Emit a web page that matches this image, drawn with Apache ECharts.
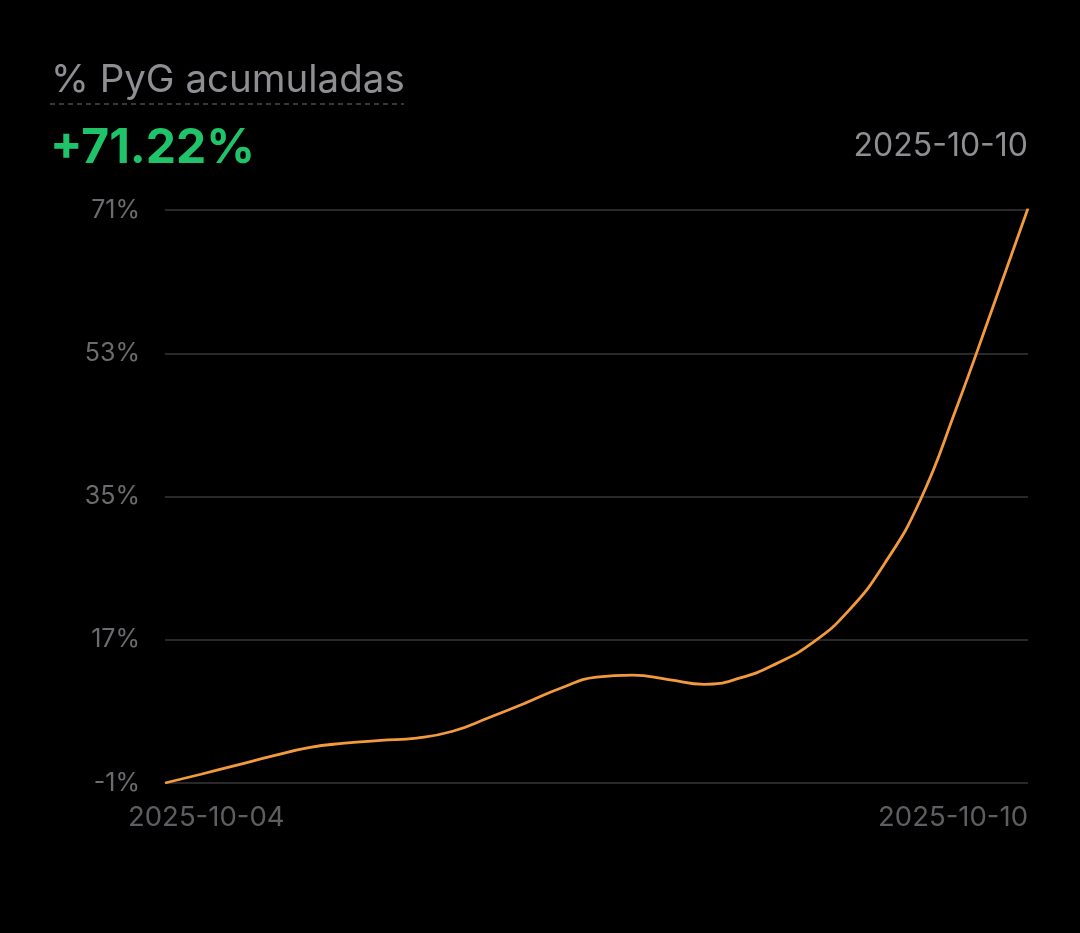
<!DOCTYPE html>
<html>
<head>
<meta charset="utf-8">
<script src="https://cdn.jsdelivr.net/npm/echarts@6/dist/echarts.min.js"></script>
<style>
html,body{margin:0;padding:0;background:#000;}
#chart{width:1080px;height:933px;}
</style>
</head>
<body>
<div id="chart"></div>
<script>
// ---- data ----
const titleText = '% PyG acumuladas';
const totalText = '+71.22%';
const lastDate = '2025-10-10';
const startDate = '2025-10-04';
const endDate = '2025-10-10';
const times = [
  '2025-10-04 00:00','2025-10-04 06:00','2025-10-04 12:00','2025-10-04 18:00',
  '2025-10-05 00:00','2025-10-05 06:00','2025-10-05 12:00','2025-10-05 18:00',
  '2025-10-06 00:00','2025-10-06 06:00','2025-10-06 12:00','2025-10-06 18:00',
  '2025-10-07 00:00','2025-10-07 06:00','2025-10-07 12:00','2025-10-07 18:00',
  '2025-10-08 00:00','2025-10-08 06:00','2025-10-08 12:00','2025-10-08 18:00',
  '2025-10-09 00:00','2025-10-09 06:00','2025-10-09 12:00','2025-10-09 18:00',
  '2025-10-10 00:00'
];
const values = [
  -1, 0.1, 1.25, 2.4,
  3.45, 4.0, 4.35, 4.65,
  5.5, 7.2, 9.0, 10.9,
  12.3, 12.55, 12.0, 11.4,
  12.2, 14.0, 16.6, 20.6,
  26.5, 34.5, 46.0, 58.5,
  71.22
];
const yTicks = [-1, 17, 35, 53, 71];

// ---- build ----
function dayOffset(s) {
  const [d, t] = s.split(' ');
  const [Y, M, D] = d.split('-').map(Number);
  const [h, m] = (t || '00:00').split(':').map(Number);
  const base = Date.UTC(2025, 9, 4);
  return (Date.UTC(Y, M - 1, D, h, m) - base) / 86400000;
}
const seriesData = times.map((t, i) => [dayOffset(t), values[i]]);
const xMin = dayOffset(startDate + ' 00:00');
const xMax = dayOffset(endDate + ' 00:00');

const chart = echarts.init(document.getElementById('chart'));
const FONT = 'Inter, "Noto Sans", sans-serif';
const option = {
  backgroundColor: '#000',
  animation: false,
  grid: { left: 165, right: 52, top: 210, bottom: 150 },
  xAxis: {
    type: 'value',
    min: xMin, max: xMax, interval: xMax - xMin,
    axisLine: { show: false },
    axisTick: { show: false },
    splitLine: { show: false },
    axisLabel: { show: false }
  },
  yAxis: {
    type: 'value',
    min: yTicks[0], max: yTicks[yTicks.length - 1], interval: yTicks[1] - yTicks[0],
    axisLine: { show: false },
    axisTick: { show: false },
    splitLine: { lineStyle: { color: '#29292b', width: 2 } },
    axisLabel: {
      margin: 25,
      color: '#6c6c70',
      fontSize: 25,
      fontFamily: FONT,
      formatter: v => Math.round(v) + '%'
    }
  },
  series: [{
    type: 'line',
    data: seriesData,
    smooth: 0.5,
    showSymbol: false,
    lineStyle: { color: '#f39a3c', width: 2.8 }
  }],
  graphic: [
    { type: 'text', left: 51, top: 61, style: { text: titleText, fill: '#8e8e93', font: '38.5px ' + FONT } },
    { type: 'line', shape: { x1: 50, y1: 104, x2: 404, y2: 104 }, style: { stroke: '#4a4a4e', lineWidth: 1.5, lineDash: [5, 4] } },
    { type: 'text', left: 50, top: 125, style: { text: totalText, fill: '#1fc46a', font: 'bold 48px ' + FONT } },
    { type: 'text', right: 52, top: 130, style: { text: lastDate, fill: '#8e8e93', font: '32px ' + FONT } }
  ]
};
chart.setOption(option);

// x-axis end labels positioned from the axis scale
const pMin = chart.convertToPixel({ gridIndex: 0 }, [xMin, yTicks[0]]);
const pMax = chart.convertToPixel({ gridIndex: 0 }, [xMax, yTicks[0]]);
chart.setOption({
  graphic: option.graphic.concat([
    { type: 'text', x: pMin[0] - 37, y: pMin[1] + 21, style: { text: startDate, fill: '#5e5e62', font: '27.5px ' + FONT, textAlign: 'left' } },
    { type: 'text', x: pMax[0], y: pMax[1] + 21, style: { text: endDate, fill: '#5e5e62', font: '27.5px ' + FONT, textAlign: 'right' } }
  ])
});
</script>
</body>
</html>
